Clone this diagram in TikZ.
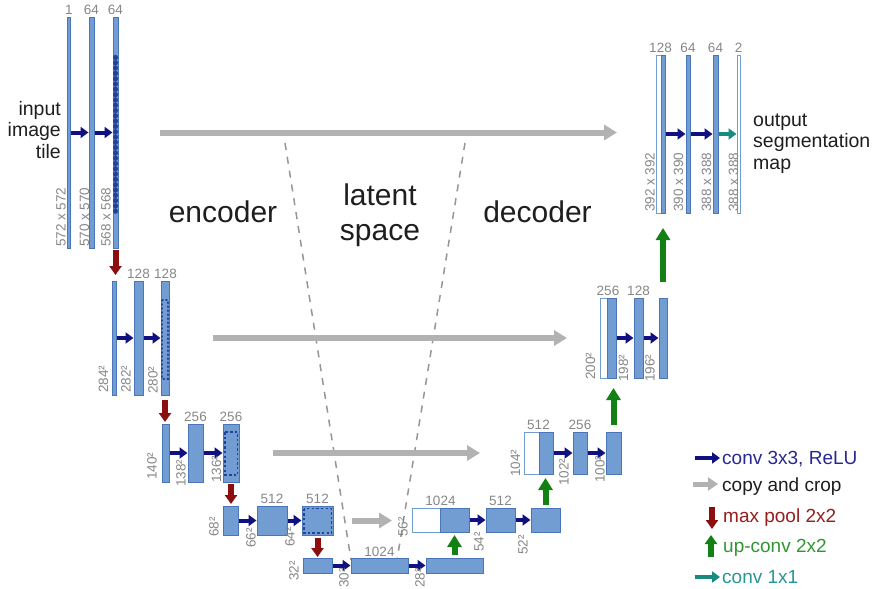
\documentclass[tikz,border=0pt]{standalone}
\usepackage{fontspec}
\setmainfont{Liberation Sans}
\usetikzlibrary{arrows.meta}
\definecolor{barfill}{RGB}{114,157,211}
\definecolor{barline}{RGB}{72,118,185}
\definecolor{numgray}{RGB}{135,135,135}
\definecolor{convblue}{RGB}{16,16,128}
\definecolor{copygray}{RGB}{178,178,178}
\definecolor{poolred}{RGB}{140,14,14}
\definecolor{upgreen}{RGB}{18,128,18}
\definecolor{tealone}{RGB}{22,140,128}
\definecolor{cropblue}{RGB}{35,65,155}
\definecolor{txt}{RGB}{30,30,30}
\definecolor{dashgray}{RGB}{150,150,150}
\definecolor{legblue}{RGB}{40,40,145}
\definecolor{legred}{RGB}{150,30,30}
\definecolor{leggreen}{RGB}{50,150,50}
\definecolor{legteal}{RGB}{40,150,150}
\newcommand\UNbar[6][]{\node[fm,#1,minimum width={(#4-#2)*1pt},minimum height={(#5-#3)*1pt}] (#6) at ({(#2+#4)/2},{(#3+#5)/2}) {};}
\begin{document}
\begin{tikzpicture}[x=1pt,y=-1pt,
  fm/.style={rectangle, draw=barline, fill=barfill, line width=0.7pt, inner sep=0pt, outer sep=0pt},
  fmw/.style={fill=white, draw=barfill},
  toplab/.style={text=numgray, font=\fontsize{13.5}{14}\selectfont, inner sep=0pt, anchor=base},
  sizelab/.style={text=numgray, font=\fontsize{13.5}{14}\selectfont, inner sep=0pt, rotate=90, anchor=west},
  bigtext/.style={text=txt, font=\fontsize{30}{35}\selectfont, inner sep=0pt, anchor=base},
  sidetext/.style={text=txt, font=\fontsize{19.5}{21.5}\selectfont, inner sep=0pt},
  legtext/.style={font=\fontsize{19}{21}\selectfont, inner sep=0pt, anchor=base west},
  conv/.style={-{Triangle[length=8pt,width=11pt]}, line width=4pt, draw=convblue, shorten <=0.5pt, shorten >=0.5pt},
  convone/.style={conv, draw=tealone},
  copyarrow/.style={-{Triangle[length=13pt,width=15pt]}, line width=6pt, draw=copygray},
  pool/.style={-{Triangle[length=9pt,width=12pt]}, line width=6pt, draw=poolred},
  upconv/.style={-{Triangle[length=12pt,width=14pt]}, line width=6pt, draw=upgreen},
  cropbeads/.style={draw=cropblue, line width=4.2pt, line cap=round, dash pattern=on 1pt off 4.3pt},
  cropdots/.style={draw=cropblue, line width=1.9pt, line cap=round, dash pattern=on 0.8pt off 3.2pt},
  cropdash/.style={draw=cropblue, line width=1.4pt, dash pattern=on 2.5pt off 2.2pt},
  divider/.style={draw=dashgray, line width=1.5pt, dash pattern=on 7pt off 7pt}
]
\useasboundingbox (0,0) rectangle (876,589);
\fill[white] (0,0) rectangle (876,589);

% encoder / latent / decoder dividers
\coordinate (dl1) at (285,143); \coordinate (dl2) at (351,560);
\coordinate (dr1) at (465,143); \coordinate (dr2) at (397,560);
\draw[divider] (dl1) -- (dl2);
\draw[divider] (dr1) -- (dr2);

% ---------- encoder ----------
\UNbar{67.5}{17}{70.5}{248}{e1a}
\UNbar{89}{17}{94}{248}{e1b}
\UNbar{113}{17}{118}{248}{e1c}
\UNbar{112}{281}{116}{395}{e2a}
\UNbar{134}{281}{143}{395}{e2b}
\UNbar{161}{281}{169}{395}{e2c}
\UNbar{162}{424}{169}{482}{e3a}
\UNbar{188}{424}{203}{482}{e3b}
\UNbar{223}{424}{239}{482}{e3c}
\UNbar{223}{506}{238}{535}{e4a}
\UNbar{257}{506}{287}{535}{e4b}
\UNbar{302}{506}{333}{535}{e4c}
% bottom
\UNbar{303}{558}{332}{573}{b1}
\UNbar{351}{558}{408}{573}{b2}
\UNbar{426}{558}{483}{573}{b3}
% ---------- decoder ----------
\UNbar[fmw]{412}{508}{440}{532}{d4w}
\UNbar{440}{508}{469}{532}{d4a}
\UNbar{486}{508}{515}{532}{d4b}
\UNbar{531}{508}{560}{532}{d4c}
\UNbar[fmw]{524}{432}{539}{474}{d3w}
\UNbar{539}{432}{553}{474}{d3a}
\UNbar{573}{432}{587}{474}{d3b}
\UNbar{606}{432}{621}{474}{d3c}
\UNbar[fmw]{600}{298}{607}{378}{d2w}
\UNbar{607}{298}{616}{378}{d2a}
\UNbar{634}{298}{643}{378}{d2b}
\UNbar{659}{298}{667}{378}{d2c}
\UNbar[fmw]{656}{55}{661}{213}{d1w}
\UNbar{661}{55}{665}{213}{d1a}
\UNbar{686}{55}{690}{213}{d1b}
\UNbar{713}{55}{718}{213}{d1c}
\UNbar[fmw]{737}{55}{740}{213}{d1d}

% crop regions
\draw[cropbeads] (115.5,57) -- (115.5,212);
\draw[cropdots] (162.4,300) rectangle (167.6,379);
\draw[cropdash] (225,432) rectangle (237.5,475);
\draw[cropdash] (304,508.5) rectangle (331.5,533);

% conv 3x3 arrows
\draw[conv] (e1a.east) -- (e1b.west);
\draw[conv] (e1b.east) -- (e1c.west);
\draw[conv] (e2a.east) -- (e2b.west);
\draw[conv] (e2b.east) -- (e2c.west);
\draw[conv] (e3a.east) -- (e3b.west);
\draw[conv] (e3b.east) -- (e3c.west);
\draw[conv] (e4a.east) -- (e4b.west);
\draw[conv] (e4b.east) -- (e4c.west);
\draw[conv] (b1.east) -- (b2.west);
\draw[conv] (b2.east) -- (b3.west);
\draw[conv] (d4a.east) -- (d4b.west);
\draw[conv] (d4b.east) -- (d4c.west);
\draw[conv] (d3a.east) -- (d3b.west);
\draw[conv] (d3b.east) -- (d3c.west);
\draw[conv] (d2a.east) -- (d2b.west);
\draw[conv] (d2b.east) -- (d2c.west);
\draw[conv] (d1a.east) -- (d1b.west);
\draw[conv] (d1b.east) -- (d1c.west);
\draw[convone] (d1c.east) -- (d1d.west);

% max pool
\draw[pool, shorten <=2pt, shorten >=6pt] (e1c.south) -- (e1c.south |- e2a.north);
\draw[pool, shorten <=5pt, shorten >=2pt] (e2c.south) -- (e2c.south |- e3a.north);
\draw[pool, shorten <=2pt, shorten >=2pt] (e3c.south) -- (e3c.south |- e4a.north);
\draw[pool, shorten <=3pt, shorten >=1pt] (e4c.south) -- (e4c.south |- b1.north);

% up-conv
\draw[upconv, shorten <=3pt, shorten >=3pt] (b3.north) -- (b3.north |- d4a.south);
\draw[upconv, shorten <=3pt, shorten >=4pt] (d4c.north) -- (d4c.north |- d3a.south);
\draw[upconv, shorten <=7pt, shorten >=10pt] (d3c.north) -- (d3c.north |- d2a.south);
\draw[upconv, shorten <=16pt, shorten >=15pt] (d2c.north) -- (d2c.north |- d1a.south);

% copy and crop
\draw[copyarrow, shorten <=42pt, shorten >=39pt] (e1c.east) -- (e1c.east -| d1w.west);
\draw[copyarrow, shorten <=44pt, shorten >=33pt] (e2c.east) -- (e2c.east -| d2w.west);
\draw[copyarrow, shorten <=34pt, shorten >=44pt] (e3c.east) -- (e3c.east -| d3w.west);
\draw[copyarrow, shorten <=19pt, shorten >=20pt] (e4c.east) -- (e4c.east -| d4w.west);

% channel counts
\node[toplab] (t1a) at (69,15) {1};
\node[toplab] (t1b) at (91.5,15) {64};
\node[toplab] (t1c) at (115.5,15) {64};
\node[toplab] (t2b) at (138.5,278) {128};
\node[toplab] (t2c) at (165.5,278) {128};
\node[toplab] (t3b) at (195.5,421) {256};
\node[toplab] (t3c) at (231,421) {256};
\node[toplab] (t4b) at (272,503) {512};
\node[toplab] (t4c) at (317.5,503) {512};
\node[toplab] (tb2) at (379.5,556) {1024};
\node[toplab] (td4a) at (440.5,505) {1024};
\node[toplab] (td4b) at (500.5,505) {512};
\node[toplab] (td3a) at (538.5,429) {512};
\node[toplab] (td3b) at (580,429) {256};
\node[toplab] (td2a) at (608,295) {256};
\node[toplab] (td2b) at (638.5,295) {128};
\node[toplab] (td1a) at (660.5,52) {128};
\node[toplab] (td1b) at (688,52) {64};
\node[toplab] (td1c) at (715.5,52) {64};
\node[toplab] (td1d) at (738.5,52) {2};

% sizes
\node[sizelab] (s1a) at (61,247) {572 x 572};
\node[sizelab] (s1b) at (84.5,247) {570 x 570};
\node[sizelab] (s1c) at (106,247) {568 x 568};
\node[sizelab] (s2a) at (103.5,393) {284²};
\node[sizelab] (s2b) at (126,393) {282²};
\node[sizelab] (s2c) at (153,394) {280²};
\node[sizelab] (s3a) at (152,480) {140²};
\node[sizelab] (s3b) at (181,487) {138²};
\node[sizelab] (s3c) at (216.5,483) {136²};
\node[sizelab] (s4a) at (214,537) {68²};
\node[sizelab] (s4b) at (251,548) {66²};
\node[sizelab] (s4c) at (290,547) {64²};
\node[sizelab] (sb1) at (294,581) {32²};
\node[sizelab] (sb2) at (344,588) {30²};
\node[sizelab] (sb3) at (420,588) {28²};
\node[sizelab] (sd4a) at (403,537) {56²};
\node[sizelab] (sd4b) at (479,552) {54²};
\node[sizelab] (sd4c) at (523,555) {52²};
\node[sizelab] (sd3a) at (515.5,477) {104²};
\node[sizelab] (sd3b) at (564,486) {102²};
\node[sizelab] (sd3c) at (600,483) {100²};
\node[sizelab] (sd2a) at (590.5,380) {200²};
\node[sizelab] (sd2b) at (623.5,382) {198²};
\node[sizelab] (sd2c) at (650,382) {196²};
\node[sizelab] (sd1a) at (650,212) {392 x 392};
\node[sizelab] (sd1b) at (678.5,212) {390 x 390};
\node[sizelab] (sd1c) at (706.5,212) {388 x 388};
\node[sizelab] (sd1d) at (733.5,212) {388 x 388};

% side texts
\node[sidetext, anchor=base east] (inp) at (61,115)
  {\begin{tabular}[t]{@{}r@{}}input\\image\\tile\end{tabular}};
\node[sidetext, anchor=base west] (outp) at (753,126)
  {\begin{tabular}[t]{@{}l@{}}output\\segmentation\\map\end{tabular}};
\node[bigtext] (enc) at (223,222) {encoder};
\node[bigtext] (lat) at (380,205) {\begin{tabular}[t]{@{}c@{}}latent\\space\end{tabular}};
\node[bigtext] (dec) at (537.5,222) {decoder};

% legend
\node[legtext, text=legblue] (lg1) at (722,464) {conv 3x3, ReLU};
\node[legtext, text=txt] (lg2) at (722,491) {copy and crop};
\node[legtext, text=legred] (lg3) at (723,522) {max pool 2x2};
\node[legtext, text=leggreen] (lg4) at (723,552) {up-conv 2x2};
\node[legtext, text=legteal] (lg5) at (722,583) {conv 1x1};
\coordinate (lc1) at (694,458);
\coordinate (lc2) at (693,484);
\coordinate (lc3a) at (712,507); \coordinate (lc3b) at (712,529);
\coordinate (lc4a) at (711,557); \coordinate (lc4b) at (711,535);
\coordinate (lc5) at (694,577);
\draw[conv, shorten >=2pt] (lc1) -- (lc1 -| lg1.west);
\draw[copyarrow, line width=5pt, -{Triangle[length=10pt,width=13pt]}, shorten >=4pt] (lc2) -- (lc2 -| lg2.west);
\draw[pool] (lc3a) -- (lc3b);
\draw[upconv, -{Triangle[length=9pt,width=12pt]}] (lc4a) -- (lc4b);
\draw[convone, shorten >=2pt] (lc5) -- (lc5 -| lg5.west);
\end{tikzpicture}
\end{document}
